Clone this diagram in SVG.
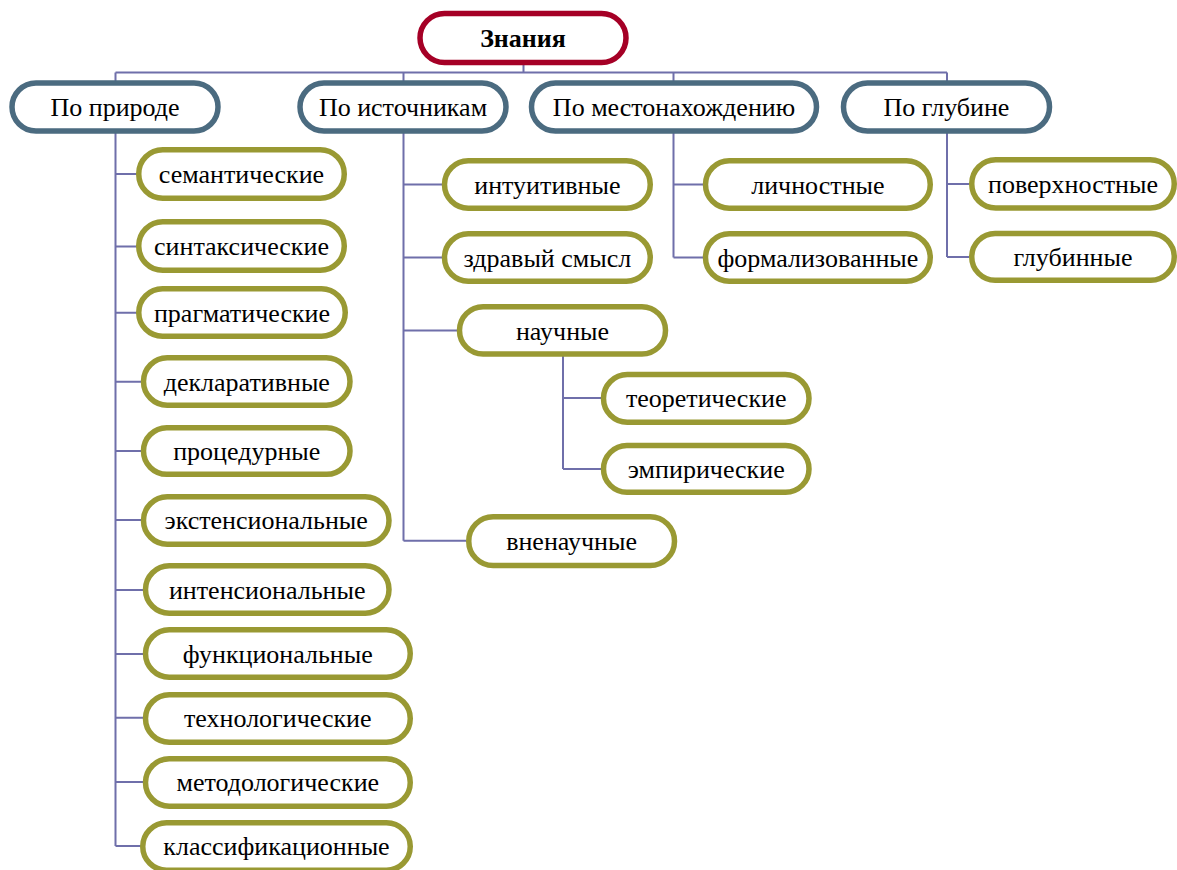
<svg xmlns="http://www.w3.org/2000/svg" width="1177" height="870" viewBox="0 0 1177 870">
<style>
.root rect{fill:#fff;stroke:#A50026;stroke-width:5.5}
.l1 rect{fill:#fff;stroke:#4B6B80;stroke-width:5.5}
.l2 rect{fill:#fff;stroke:#999933;stroke-width:5.5}
text{font-family:"Liberation Serif","DejaVu Serif",serif;font-size:26px;fill:#000;text-anchor:middle}
.root text{font-weight:bold}
#connectors path{fill:none;stroke:#6F6FAA;stroke-width:2}
</style>
<rect width="1177" height="870" fill="#fff"/>
<g id="connectors">
<path d="M523.5 65V72.5M115.5 72.5H947M115.5 72.5V81M403.5 72.5V81M673.5 72.5V81M947 72.5V81"/>
<path d="M115.5 133V846M115.5 174H137M115.5 246.5H137M115.5 312.7H137M115.5 381.7H141M115.5 451H141M115.5 520H141M115.5 590H143M115.5 654H143M115.5 717.7H143M115.5 782H143M115.5 846H141"/>
<path d="M403.5 133V540.7M403.5 184.5H442M403.5 257.5H442M403.5 330.5H457M403.5 540.7H466"/>
<path d="M563 356V469M563 398H601M563 469H601"/>
<path d="M673.5 133V257.5M673.5 184.5H703M673.5 257.5H703"/>
<path d="M947 133V257M947 184H969M947 257H969"/>
</g>
<g id="n-root" class="root"><rect x="420" y="13.5" width="206" height="49" rx="24.5"/><text x="523" y="47">Знания</text></g>
<g id="n-priroda" class="l1"><rect x="12" y="83" width="206" height="48" rx="24"/><text x="115" y="116">По природе</text></g>
<g id="n-istochniki" class="l1"><rect x="300" y="83" width="206" height="48" rx="24"/><text x="403" y="116">По источникам</text></g>
<g id="n-mesto" class="l1"><rect x="531.5" y="83" width="285" height="48" rx="24"/><text x="674" y="116">По местонахождению</text></g>
<g id="n-glubina" class="l1"><rect x="843.5" y="83" width="206" height="48" rx="24"/><text x="946.5" y="116">По глубине</text></g>
<g id="n-semant" class="l2"><rect x="138.75" y="149.75" width="205.5" height="48.5" rx="24"/><text x="241.5" y="183">семантические</text></g>
<g id="n-sintaks" class="l2"><rect x="138.75" y="221.75" width="205.5" height="48.5" rx="24"/><text x="241.5" y="255">синтаксические</text></g>
<g id="n-pragmat" class="l2"><rect x="138.75" y="288.75" width="206.5" height="47.5" rx="23.75"/><text x="242" y="321.5">прагматические</text></g>
<g id="n-deklar" class="l2"><rect x="143.5" y="357.75" width="206.5" height="47.5" rx="23.75"/><text x="246.8" y="390.5">декларативные</text></g>
<g id="n-proced" class="l2"><rect x="143.5" y="427.75" width="206.5" height="46.5" rx="23.25"/><text x="246.8" y="460">процедурные</text></g>
<g id="n-ekst" class="l2"><rect x="143.5" y="496.75" width="245.5" height="47.5" rx="23.75"/><text x="266.2" y="529">экстенсиональные</text></g>
<g id="n-intens" class="l2"><rect x="145.5" y="565.75" width="243.5" height="47.5" rx="23.75"/><text x="267.2" y="599">интенсиональные</text></g>
<g id="n-funk" class="l2"><rect x="145.5" y="629.75" width="264.75" height="47.5" rx="23.75"/><text x="277.8" y="663">функциональные</text></g>
<g id="n-tehn" class="l2"><rect x="145.5" y="694.75" width="264.75" height="47.5" rx="23.75"/><text x="277.8" y="727">технологические</text></g>
<g id="n-metod" class="l2"><rect x="145.5" y="758.75" width="264.75" height="47.5" rx="23.75"/><text x="277.8" y="791">методологические</text></g>
<g id="n-klass" class="l2"><rect x="142.75" y="822.75" width="267.5" height="47.5" rx="23.75"/><text x="276.5" y="855">классификационные</text></g>
<g id="n-intuit" class="l2"><rect x="444.5" y="160.75" width="205.75" height="47.5" rx="23.75"/><text x="547.4" y="193.5">интуитивные</text></g>
<g id="n-zdrav" class="l2"><rect x="444.5" y="233.75" width="205.75" height="47.5" rx="23.75"/><text x="547.4" y="266.5">здравый смысл</text></g>
<g id="n-nauch" class="l2"><rect x="459.5" y="306.75" width="206" height="47.25" rx="23.6"/><text x="562.5" y="339.5">научные</text></g>
<g id="n-teor" class="l2"><rect x="603.5" y="374.5" width="205.5" height="47.75" rx="23.8"/><text x="706.2" y="407">теоретические</text></g>
<g id="n-empir" class="l2"><rect x="603.5" y="445.5" width="205.5" height="46.75" rx="23.4"/><text x="706.2" y="478">эмпирические</text></g>
<g id="n-vnenauch" class="l2"><rect x="468.75" y="516.75" width="205.75" height="48.75" rx="24.4"/><text x="571.6" y="550">вненаучные</text></g>
<g id="n-lichn" class="l2"><rect x="705.5" y="160.75" width="224.75" height="47.5" rx="23.75"/><text x="817.9" y="193.5">личностные</text></g>
<g id="n-formal" class="l2"><rect x="705.5" y="233.75" width="224.75" height="47.5" rx="23.75"/><text x="817.9" y="266.5">формализованные</text></g>
<g id="n-poverh" class="l2"><rect x="971.75" y="159.75" width="202.5" height="48.25" rx="24"/><text x="1073" y="193">поверхностные</text></g>
<g id="n-glubin" class="l2"><rect x="971.75" y="233.5" width="202.5" height="46.75" rx="23.4"/><text x="1073" y="266">глубинные</text></g>
</svg>
